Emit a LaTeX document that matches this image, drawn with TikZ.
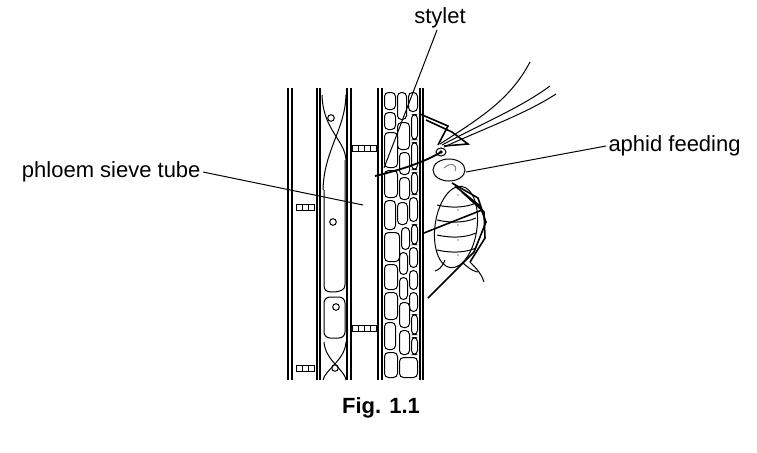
\documentclass[tikz,border=0pt]{standalone}
\usepackage{fontspec}
\setmainfont{Liberation Sans}
\begin{document}
\begin{tikzpicture}[x=0.5pt,y=-0.5pt,line width=0.5pt,
  lab/.style={font=\fontsize{11}{13}\selectfont,inner sep=1pt},
  wall/.style={line width=0.6pt},
  cell/.style={rounded corners=2pt,line width=0.5pt},
  pit/.style={draw,minimum width=3pt,minimum height=3pt,inner sep=0pt,line width=0.4pt}]
\useasboundingbox (0,0) rectangle (757,452);
% walls
\foreach \x in {288,292,317,320,347,351,378,382,420,423}
  \draw[wall] (\x,88) -- (\x,380);
% sieve plates
\foreach \y in {148,328}{\foreach \x in {356,362,368,374} \node[pit] at (\x-1,\y) {};}
\foreach \y in {207,368}{\foreach \x in {299,305,311} \node[pit] at (\x,\y) {};}
% companion cells
\draw (322,95) .. controls (323,130) and (345,140) .. (346,160);
\draw (346,95) .. controls (345,130) and (324,150) .. (323,190);
\draw (324,190) -- (324,285) .. controls (324,290) and (326,292) .. (332,292) .. controls (340,292) and (345,290) .. (345,285) -- (345,160);
\draw[rounded corners=3pt] (324,297) rectangle (345,338);
\draw (324,342) .. controls (325,360) and (345,370) .. (346,380);
\draw (346,342) .. controls (345,360) and (325,370) .. (323,380);
\foreach \p in {(331,118),(333,222),(336,307),(335,368)} \draw \p circle (3.3);
% parenchyma cells
\foreach \ya/\yb/\xa/\xb in {92/110/384/396, 92/120/397/407, 92/112/408/418,
  112/130/384/396, 122/150/397/410, 114/140/411/418,
  132/168/384/398, 152/175/399/410, 142/170/411/418,
  170/198/384/398, 177/200/399/410, 172/195/411/418,
  200/230/384/396, 202/225/397/408, 197/222/409/418,
  232/262/384/400, 227/250/401/410, 224/245/411/418,
  264/290/384/398, 252/275/399/408, 247/268/409/418,
  292/320/384/398, 277/300/399/408, 270/290/409/418,
  322/350/384/396, 302/328/399/410, 292/312/409/418,
  352/378/384/398, 330/355/399/410, 314/335/411/418,
  357/378/399/418, 337/355/411/418}
  \draw[cell] (\xa+0.5,\ya+0.5) rectangle (\xb-0.5,\yb-0.5);
% aphid
\coordinate (st) at (375,176);
\coordinate (hd) at (441,152);
\draw[line width=0.9pt] (st) .. controls (400,170) and (425,162) .. (hd);
\draw (hd) ellipse (5 and 4);
\fill (hd) circle (1.8);
\draw (440,144) .. controls (480,118) and (510,100) .. (530,62);
\draw (442,145) .. controls (485,122) and (520,108) .. (550,86);
\draw (444,147) .. controls (490,126) and (525,114) .. (556,94);
\draw (449,170) ellipse (16 and 11);
\draw[gray] (444,168) .. controls (450,162) and (458,164) .. (455,171);
\draw[rotate around={-8:(456,227)}] (456,227) ellipse (21 and 41);
\foreach \y in {205,220,235,250} \draw (437,\y) .. controls (450,\y+3) and (465,\y+3) .. (476,\y-2);
\foreach \y in {195,210,225,240,255} \fill (458,\y) circle (0.6);
% legs
\draw[line width=0.8pt] (438,145) -- (448,126) -- (420,114);
\draw[line width=0.8pt] (444,146) -- (468,144) -- (452,132) -- (426,120);
\draw[line width=0.8pt] (452,183) -- (478,198) -- (482,210) -- (424,233);
\draw[line width=0.8pt] (455,186) -- (480,206) -- (486,222) -- (474,252) -- (428,298);
\draw[line width=0.8pt] (462,192) -- (484,212) -- (485,238) -- (470,262);
\draw (470,262) .. controls (478,270) and (482,275) .. (484,282);
\draw (462,262) .. controls (470,270) and (476,272) .. (478,272);
\draw (445,260) .. controls (442,268) and (438,270) .. (435,271);
% labels
\node[lab] (lst) at (440,18) {stylet};
\draw (437,30) -- (384,168);
\node[lab,anchor=west] (lap) at (606,146) {aphid feeding};
\draw (lap.west) -- (466,172);
\node[lab,anchor=east] (lph) at (203,172) {phloem sieve tube};
\draw (lph.east) -- (363,205);
\node[lab,font=\bfseries\fontsize{11}{13}\selectfont] (fig) at (381,408) {Fig. 1.1};
\end{tikzpicture}
\end{document}
